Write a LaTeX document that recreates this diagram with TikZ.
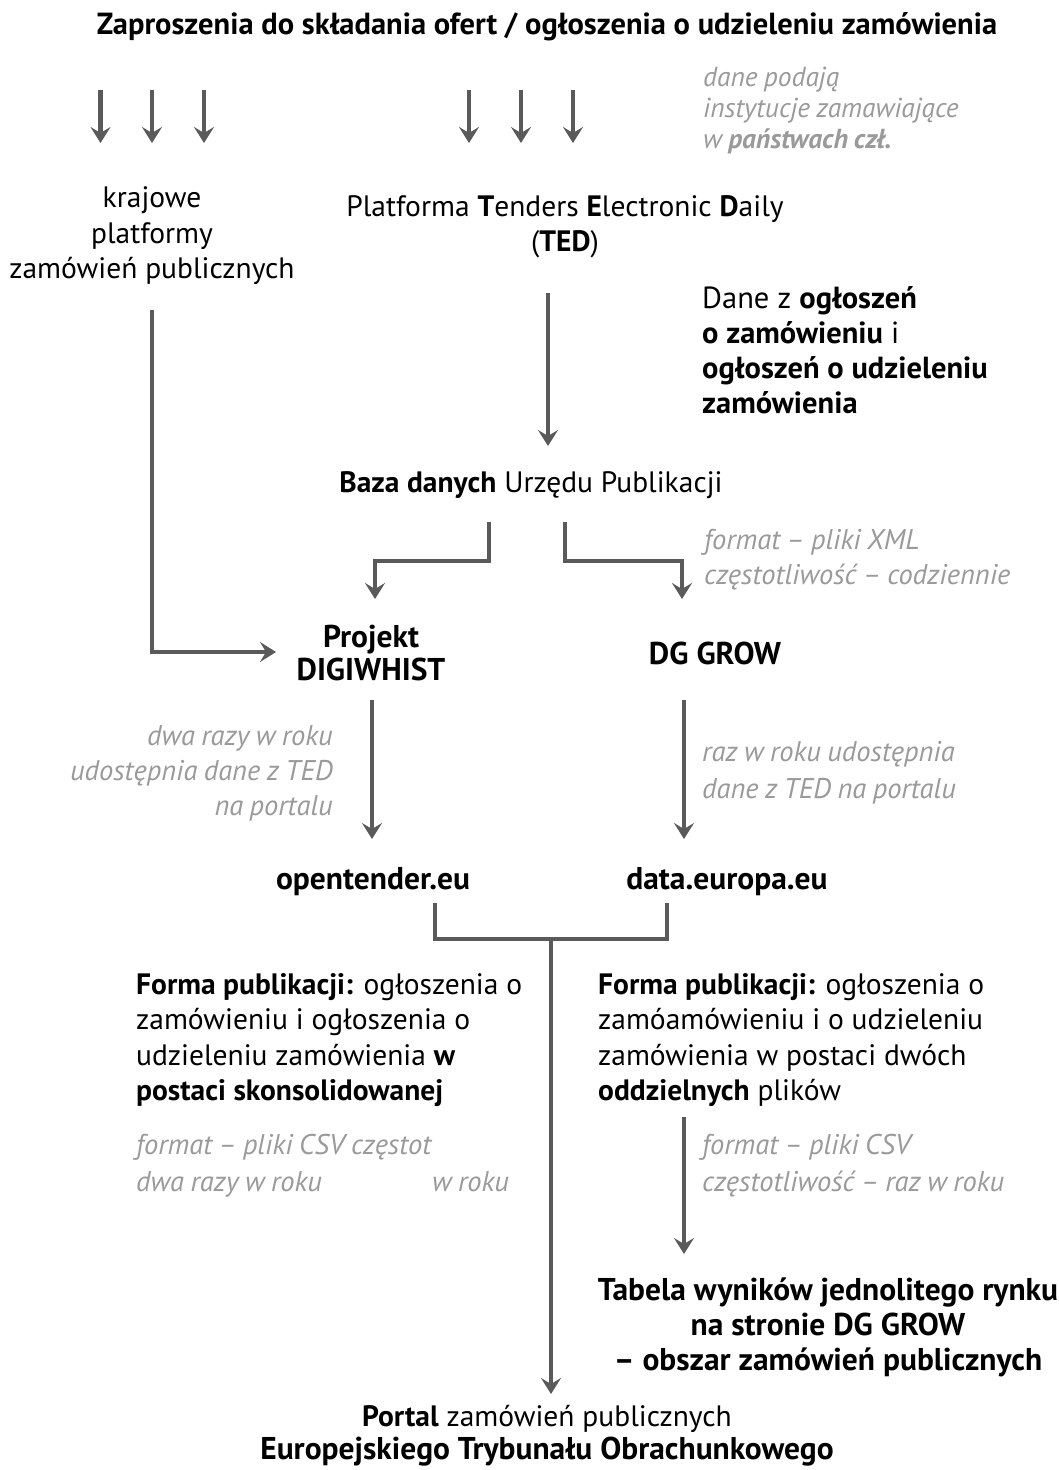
\documentclass[tikz,border=0pt]{standalone}
\usepackage{fontspec}
\setmainfont{PT Sans}[ItalicFeatures={WordSpace=0.85},BoldItalicFeatures={WordSpace=0.85}]
\usetikzlibrary{arrows.meta}
\definecolor{ag}{HTML}{5A5A5A}
\definecolor{tg}{HTML}{9A9A9A}
\tikzset{
  arr/.style={draw=ag, line width=4.2pt, -{Stealth[length=16pt,width=20pt,inset=6pt]}},
  ln/.style={draw=ag, line width=4.2pt},
  txt/.style={inner sep=0pt, text=black, font=\fontsize{29.5}{35.5}\selectfont},
  btxt/.style={txt, font=\fontsize{31.5}{34}\selectfont\bfseries},
  note/.style={inner sep=0pt, text=tg, font=\fontsize{28.5}{35}\selectfont\itshape},
}
\begin{document}
\begin{tikzpicture}[x=1pt,y=-1pt]
\useasboundingbox (0,0) rectangle (1059,1470);
% title
\node[btxt, font=\fontsize{30.5}{34}\selectfont\bfseries] (title) at (547,27) {Zaproszenia do składania ofert / ogłoszenia o udzieleniu zamówienia};
% small arrows
\foreach \i/\xx in {1/100.5,2/152,3/204,4/469,5/521,6/573}{
  \coordinate (s\i) at (\xx,90);
  \coordinate (e\i) at (\xx,143);
  \draw[arr] (s\i) -- (e\i);
}
\node[note, anchor=west, align=left, font=\fontsize{27.5}{31}\selectfont\itshape] (dane) at (703,111)
  {dane podają\\instytucje zamawiające\\w \textbf{państwach czł.}};
\node[txt, align=center] (kraj) at (152,236) {krajowe\\platformy\\zamówień publicznych};
\node[txt, align=center] (ted) at (565,227) {Platforma \textbf{T}enders \textbf{E}lectronic \textbf{D}aily\\(\textbf{TED})};
\node[txt, anchor=west, align=left, font=\fontsize{30.5}{35}\selectfont] (danez) at (702,350)
  {Dane z \textbf{ogłoszeń}\\\textbf{o zamówieniu} i\\\textbf{ogłoszeń o udzieleniu}\\\textbf{zamówienia}};
\node[txt] (baza) at (531,485) {\textbf{Baza danych} Urzędu Publikacji};
\node[note, anchor=west, align=left] (xml) at (704,560) {format – pliki XML\\częstotliwość – codziennie};
\node[btxt, align=center, font=\fontsize{31.5}{33}\selectfont\bfseries] (proj) at (371,653) {Projekt\\DIGIWHIST};
\node[btxt] (grow) at (715,653) {DG GROW};
\node[note, anchor=east, align=right] (dwa) at (333,773) {dwa razy w roku\\udostępnia dane z TED\\na portalu};
\node[note, anchor=west, align=left, font=\fontsize{28.5}{37}\selectfont\itshape] (raz) at (702,773) {raz w roku udostępnia\\dane z TED na portalu};
\node[btxt] (open) at (373,882) {opentender.eu};
\node[btxt] (data) at (727,882) {data.europa.eu};
\node[txt, anchor=west, align=left] (formaL) at (136,1040)
  {\textbf{Forma publikacji:} ogłoszenia o\\zamówieniu i ogłoszenia o\\udzieleniu zamówienia \textbf{w}\\\textbf{postaci skonsolidowanej}};
\node[txt, anchor=west, align=left] (formaR) at (598,1040)
  {\textbf{Forma publikacji:} ogłoszenia o\\zamóamówieniu i o udzieleniu\\zamówienia w postaci dwóch\\\textbf{oddzielnych} plików};
\node[note, anchor=west, align=left, font=\fontsize{28.5}{37}\selectfont\itshape] (csvL) at (136,1166)
  {format – pliki CSV częstot\\\makebox[296pt][l]{dwa razy w roku}w roku};
\node[note, anchor=west, align=left, font=\fontsize{28.5}{37}\selectfont\itshape] (csvR) at (702,1166)
  {format – pliki CSV\\częstotliwość – raz w roku};
\node[btxt, align=center, font=\fontsize{31.5}{35}\selectfont\bfseries] (tab) at (828,1327)
  {Tabela wyników jednolitego rynku\\na stronie DG GROW\\– obszar zamówień publicznych};
\node[txt, align=center, font=\fontsize{29.5}{33}\selectfont] (portal) at (547,1436)
  {\textbf{Portal} zamówień publicznych\\{\fontsize{31.5}{33}\selectfont\bfseries Europejskiego Trybunału Obrachunkowego}};
% connector coordinates
\coordinate (k1) at (152,310);
\coordinate (k2) at (276,652);
\coordinate (t1) at (548,293);
\coordinate (t2) at (548,446);
\coordinate (b1) at (489,522);
\coordinate (b1m) at (489,561);
\coordinate (b1e) at (375,599);
\coordinate (b2) at (565,522);
\coordinate (b2m) at (565,561);
\coordinate (b2e) at (682,599);
\coordinate (p1) at (372,700);
\coordinate (p2) at (372,839);
\coordinate (g1) at (684,700);
\coordinate (g2) at (684,839);
\coordinate (o1) at (435,903);
\coordinate (d1) at (667,903);
\coordinate (j) at (551,939);
\coordinate (pe) at (551,1394);
\coordinate (r1) at (684,1117);
\coordinate (r2) at (684,1254);
% connectors
\draw[arr] (k1) |- (k2);
\draw[arr] (t1) -- (t2);
\draw[arr] (b1) -- (b1m) -| (b1e);
\draw[arr] (b2) -- (b2m) -| (b2e);
\draw[arr] (p1) -- (p2);
\draw[arr] (g1) -- (g2);
\draw[ln] (o1) |- (j) -| (d1);
\draw[arr] (j) -- (pe);
\draw[arr] (r1) -- (r2);
\end{tikzpicture}
\end{document}
